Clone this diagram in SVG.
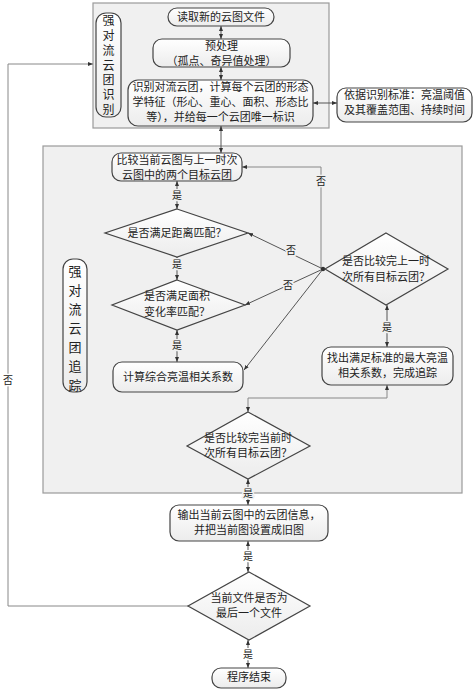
<svg xmlns="http://www.w3.org/2000/svg" width="474" height="693" viewBox="0 0 474 693">
<defs>
<marker id="ah" viewBox="0 0 10 10" refX="10" refY="5" markerWidth="5" markerHeight="5" orient="auto-start-reverse">
<path d="M0,1 L10,5 L0,9 z" fill="#333"/>
</marker>
<linearGradient id="nf" x1="0" y1="0" x2="0" y2="1">
<stop offset="0" stop-color="#ffffff"/>
<stop offset="1" stop-color="#ececec"/>
</linearGradient>
</defs>
<style>
.panel{fill:#f0f0f0;stroke:#9a9a9a;stroke-width:1.2}
.node{fill:url(#nf);stroke:#444;stroke-width:1.2}
.t{font-family:"Noto Sans CJK SC","Noto Sans CJK JP",sans-serif;font-size:11px;fill:#222;text-anchor:middle}
.v{font-family:"Noto Sans CJK SC","Noto Sans CJK JP",sans-serif;fill:#222;text-anchor:middle;writing-mode:vertical-rl}
.l{font-family:"Noto Sans CJK SC","Noto Sans CJK JP",sans-serif;font-size:10px;fill:#222;text-anchor:middle;stroke:#f0f0f0;stroke-width:3;paint-order:stroke}
.lw{stroke:#fff}
.c{fill:none;stroke:#555;stroke-width:1}
.g{fill:none;stroke:#888;stroke-width:1}
</style>
<rect width="474" height="693" fill="#ffffff"/>
<rect id="panel-identify" class="panel" x="93" y="3" width="236" height="125"/>
<rect id="panel-track" class="panel" x="43" y="146" width="419" height="347"/>

<g id="connectors">
<line class="c" x1="221" y1="26" x2="221" y2="39" marker-start="url(#ah)" marker-end="url(#ah)"/>
<line class="c" x1="221" y1="67" x2="221" y2="80" marker-start="url(#ah)" marker-end="url(#ah)"/>
<line class="c" x1="313" y1="103" x2="337" y2="103" marker-start="url(#ah)" marker-end="url(#ah)"/>
<line class="c" x1="221" y1="126" x2="221" y2="153" marker-start="url(#ah)" marker-end="url(#ah)"/>
<line class="c" x1="177" y1="181" x2="177" y2="209" marker-start="url(#ah)" marker-end="url(#ah)"/>
<line class="c" x1="177" y1="257" x2="177" y2="280" marker-start="url(#ah)" marker-end="url(#ah)"/>
<line class="c" x1="177" y1="330" x2="177" y2="362" marker-start="url(#ah)" marker-end="url(#ah)"/>
<polyline class="g" points="321,269 321,167 242,167" marker-end="url(#ah)"/>
<line class="c" x1="323" y1="269" x2="248" y2="233" marker-end="url(#ah)"/>
<line class="c" x1="323" y1="269" x2="245" y2="305" marker-end="url(#ah)"/>
<line class="c" x1="323" y1="269" x2="244" y2="370" marker-end="url(#ah)"/>
<circle cx="323" cy="269" r="2.2" fill="#333"/>
<line class="c" x1="387" y1="305" x2="387" y2="347" marker-start="url(#ah)" marker-end="url(#ah)"/>
<polyline class="g" points="248,412 248,398 387,398 387,385" marker-start="url(#ah)" marker-end="url(#ah)"/>
<line class="c" x1="248" y1="479" x2="248" y2="505" marker-start="url(#ah)" marker-end="url(#ah)"/>
<line class="c" x1="248" y1="541" x2="248" y2="572" marker-start="url(#ah)" marker-end="url(#ah)"/>
<line class="c" x1="248" y1="640" x2="248" y2="668" marker-start="url(#ah)" marker-end="url(#ah)"/>
<polyline class="g" points="188,606 8,606 8,64 93,64" marker-end="url(#ah)"/>
<text class="l" x="177" y="199">是</text>
<text class="l" x="177" y="268">是</text>
<text class="l" x="177" y="349">是</text>
<text class="l" x="321" y="185">否</text>
<text class="l" x="291" y="254">否</text>
<text class="l" x="288" y="289">否</text>
<text class="l" x="387" y="331">是</text>
<text class="l" x="248" y="497">是</text>
<text class="l lw" x="248" y="560">是</text>
<text class="l lw" x="248" y="658">是</text>
<text class="l lw" x="8" y="384">否</text>
</g>

<g id="label-identify">
<rect class="node" x="96" y="13" width="25" height="104" rx="10"/>
<text class="v" x="108.5" y="66.4" font-size="12" letter-spacing="2.8">强对流云团识别</text>
</g>
<g id="n-read">
<rect class="node" x="168" y="8" width="106" height="18" rx="9"/>
<text class="t" x="221" y="21">读取新的云图文件</text>
</g>
<g id="n-pre">
<rect class="node" x="153" y="39" width="137" height="28" rx="9"/>
<text class="t" x="221.5" y="50">预处理</text>
<text class="t" x="221.5" y="65">（孤点、奇异值处理）</text>
</g>
<g id="n-identify">
<rect class="node" x="128" y="80" width="185" height="46" rx="10"/>
<text class="t" x="220.5" y="91">识别对流云团，计算每个云团的形态</text>
<text class="t" x="220.5" y="106">学特征（形心、重心、面积、形态比</text>
<text class="t" x="220.5" y="121">等），并给每一个云团唯一标识</text>
</g>
<g id="n-criteria">
<rect class="node" x="337" y="88" width="135" height="34" rx="9"/>
<text class="t" x="404.5" y="99">依据识别标准：亮温阈值</text>
<text class="t" x="404.5" y="114">及其覆盖范围、持续时间</text>
</g>
<g id="n-compare">
<rect class="node" x="112" y="153" width="130" height="28" rx="9"/>
<text class="t" x="177" y="164">比较当前云图与上一时次</text>
<text class="t" x="177" y="179">云图中的两个目标云团</text>
</g>
<g id="d-distance">
<polygon class="node" points="177,209 248,233 177,257 105,233"/>
<text class="t" x="177" y="237">是否满足距离匹配？</text>
</g>
<g id="d-area">
<polygon class="node" points="177,280 245,305 177,330 112,305"/>
<text class="t" x="177" y="300">是否满足面积</text>
<text class="t" x="177" y="316">变化率匹配？</text>
</g>
<g id="n-calc">
<rect class="node" x="113" y="362" width="130" height="30" rx="9"/>
<text class="t" x="178" y="381">计算综合亮温相关系数</text>
</g>
<g id="label-track">
<rect class="node" x="63" y="259" width="24" height="133" rx="10"/>
<text class="v" x="75" y="331" font-size="13" letter-spacing="6">强对流云团追踪</text>
</g>
<g id="d-prev">
<polygon class="node" points="386,233 448,269 386,305 325,269"/>
<text class="t" x="386" y="265">是否比较完上一时</text>
<text class="t" x="386" y="281">次所有目标云团？</text>
</g>
<g id="n-find">
<rect class="node" x="322" y="347" width="131" height="38" rx="9"/>
<text class="t" x="387.5" y="362">找出满足标准的最大亮温</text>
<text class="t" x="387.5" y="377">相关系数，完成追踪</text>
</g>
<g id="d-curr">
<polygon class="node" points="248,412 310,446 248,479 187,446"/>
<text class="t" x="248" y="442">是否比较完当前时</text>
<text class="t" x="248" y="457">次所有目标云团？</text>
</g>
<g id="n-output">
<rect class="node" x="170" y="505" width="158" height="36" rx="9"/>
<text class="t" x="249" y="519">输出当前云图中的云团信息，</text>
<text class="t" x="249" y="534">并把当前图设置成旧图</text>
</g>
<g id="d-last">
<polygon class="node" points="249,572 310,606 249,640 188,606"/>
<text class="t" x="249" y="602">当前文件是否为</text>
<text class="t" x="249" y="617">最后一个文件</text>
</g>
<g id="n-end">
<rect class="node" x="212" y="668" width="74" height="20" rx="9"/>
<text class="t" x="249" y="681">程序结束</text>
</g>
</svg>
